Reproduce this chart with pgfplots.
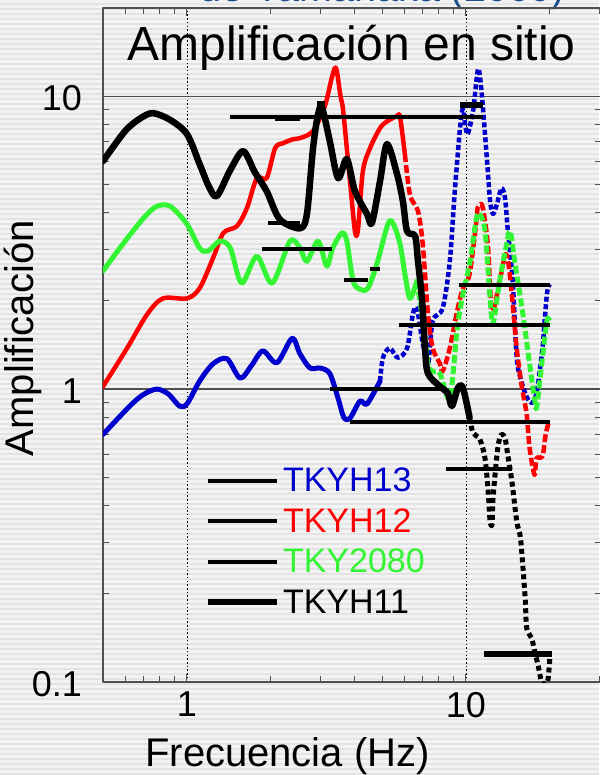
\documentclass[border=0pt]{standalone}
\usepackage{fontspec}
\setmainfont{Liberation Sans}
\usepackage{pgfplots}
\pgfplotsset{compat=1.18}

\definecolor{bgbase}{HTML}{F3F3F3}
\definecolor{bgstripe}{HTML}{E3E3E3}
\definecolor{titleblue}{HTML}{1F4E8C}
\definecolor{cblue}{HTML}{0000CC}
\definecolor{cred}{HTML}{FF0000}
\definecolor{cgreen}{HTML}{33F533}
\definecolor{axgray}{HTML}{505050}

\begin{document}
\begin{tikzpicture}[x=1pt,y=1pt]
% slide background
\fill[bgbase] (0,0) rectangle (599,775);
\foreach \s in {0,5,...,775} \fill[bgstripe] (0,\s) rectangle (599,\s+1.6);
% slide heading, cut by the top edge
\node[anchor=base west, inner sep=0pt, text=titleblue,
      font=\fontsize{39.5}{44}\selectfont] at (199,773) {de Yamanaka (2000)};

\begin{axis}[
  at={(103pt,93pt)}, anchor=south west,
  scale only axis, width=498.1pt, height=674pt,
  xmode=log, ymode=log,
  xmin=0.5, xmax=30.5, ymin=0.1, ymax=20,
  xtick={1,10}, xticklabels={1,10},
  ytick={0.1,1,10}, yticklabels={0.1,1,10},
  minor xtick={0.6,0.7,0.8,0.9,2,3,4,5,6,7,8,9,20,30},
  minor ytick={0.2,0.3,0.4,0.5,0.6,0.7,0.8,0.9,2,3,4,5,6,7,8,9},
  tick align=inside, major tick length=8pt, minor tick length=6pt,
  every tick/.style={axgray, line width=1pt},
  axis line style={axgray, line width=1.2pt},
  xmajorgrids, ymajorgrids,
  x grid style={black, line width=0.9pt, dash pattern=on 1.5pt off 2.2pt},
  y grid style={axgray, line width=1.2pt},
  /pgf/number format/assume math mode=true,
  tick label style={font=\fontsize{36}{40}\selectfont},
  xticklabel style={inner sep=0pt, yshift=-10pt},
  yticklabel style={inner sep=0pt, xshift=-21pt, yshift=-2pt},
  xlabel={Frecuencia (Hz)}, ylabel={Amplificación},
  label style={font=\fontsize{40}{44}\selectfont},
  xlabel style={at={(axis description cs:0.3704,0)}, anchor=north, inner sep=0pt, yshift=-55.5pt},
  ylabel style={at={(axis description cs:-0.1225,0.510)}, anchor=south, inner sep=0pt},
  title={Amplificación en sitio},
  title style={at={(axis description cs:0.499,0.9125)}, anchor=base, inner sep=0pt,
               font=\fontsize{48}{52}\selectfont},
  legend style={at={(axis description cs:0.2048,0.3175)}, anchor=north west,
                draw=none, fill=none, inner sep=0pt, outer sep=0pt,
                row sep=15.3pt, column sep=3pt,
                font=\fontsize{34}{40}\selectfont, nodes={inner sep=0pt}},
  legend cell align=left,
  legend image code/.code={\draw[#1] (0pt,0pt) -- (69pt,0pt);},
  line join=round,
]

% TKYH13
\addplot[cblue, line width=5pt, line cap=round, smooth, tension=0.5, forget plot] coordinates {
  (0.5,0.70) (0.57,0.80) (0.64,0.896) (0.7,0.96) (0.78,1.0) (0.86,0.96) (0.94,0.875)
  (1.0,0.89) (1.11,1.065) (1.24,1.22) (1.39,1.27) (1.55,1.09) (1.7,1.2) (1.87,1.35)
  (2.1,1.23) (2.38,1.49) (2.54,1.32) (2.76,1.18) (3.0,1.18) (3.25,1.13) (3.48,0.93)
  (3.65,0.80) (3.84,0.796) (4.17,0.91) (4.42,0.89) (4.92,1.065) };
\addplot[cblue, line width=4.5pt, dash pattern=on 5pt off 2.5pt, smooth, tension=0.5, forget plot] coordinates {
  (4.92,1.065) (5.04,1.28) (5.33,1.38) (5.7,1.28) (6.15,1.38) (6.45,1.80) (6.67,1.89)
  (6.95,1.49) (7.31,1.22) (7.6,1.71) (8.25,1.89) (8.75,2.73) (9.1,4.63) (9.52,7.78)
  (9.75,9.03) (10.1,7.42) (10.6,8.9) (10.9,11.3) (11.1,12.4) (11.4,10.1) (11.9,6.0)
  (12.2,4.39) (12.5,3.96) (12.9,4.27) (13.4,4.85) (13.8,4.49) (14.1,3.54) (14.7,2.34)
  (15.2,1.28) (15.8,1.06) (16.6,0.93) (17.4,0.90) (18.0,1.0) (18.8,1.38) (19.5,2.11)
  (20,2.28) };

% TKYH12
\addplot[cred, line width=4.5pt, line cap=round, smooth, tension=0.5, forget plot] coordinates {
  (0.5,1.02) (0.61,1.38) (0.72,1.80) (0.82,2.04) (1.0,2.04) (1.11,2.21) (1.24,2.80)
  (1.35,3.41) (1.51,3.60) (1.64,4.15) (1.78,5.25) (1.93,5.25) (2.07,6.65) (2.21,6.91)
  (2.4,7.13) (2.54,7.19) (2.83,7.6) (3.12,9.25) (3.3,11.5) (3.42,12.5) (3.55,10.0)
  (3.62,9.1) (3.74,6.65) (3.84,5.13) (4.0,3.46) (4.1,3.5) (4.27,5.54) (4.53,6.65)
  (4.92,7.78) (5.21,8.2) (5.66,8.55) (5.8,8.5) (6.04,6.34) };
\addplot[cred, line width=4.5pt, dash pattern=on 8pt off 3pt, smooth, tension=0.5, forget plot] coordinates {
  (6.04,6.34) (6.3,4.6) (6.73,4.05) (7.0,3.12) (7.31,1.80) (7.6,1.38) (8.07,1.22)
  (8.25,1.15) (8.75,1.38) (9.3,1.85) (9.75,2.21) (10.3,2.47) (10.9,3.74) (11.0,4.15)
  (11.4,4.27) (11.7,3.74) (12.0,3.03) (12.4,1.85) (13.2,2.34) (13.9,2.89) (14.4,2.4)
  (15.2,1.38) (15.8,1.04) (16.5,0.82) (16.9,0.63) (17.6,0.51) (17.9,0.58) (18.8,0.59)
  (19.3,0.70) (19.8,0.77) };

% TKY2080
\addplot[cgreen, line width=5pt, line cap=round, smooth, tension=0.5, forget plot] coordinates {
  (0.5,2.53) (0.57,3.0) (0.64,3.46) (0.71,3.9) (0.78,4.21) (0.87,4.21) (1.0,3.66)
  (1.11,3.03) (1.19,2.96) (1.31,3.20) (1.43,3.03) (1.57,2.30) (1.78,2.84) (2.02,2.30)
  (2.34,3.20) (2.54,3.03) (2.69,2.73) (2.95,3.20) (3.17,2.63) (3.33,3.03) (3.59,3.41)
  (3.74,3.20) (3.94,2.34) (4.17,2.19) (4.45,2.21) (4.79,2.67) (5.25,3.66) (5.47,3.69)
  (5.8,3.13) (6.04,2.47) (6.3,2.04) (6.67,2.34) };
\addplot[cgreen, line width=5pt, dash pattern=on 8pt off 3pt, smooth, tension=0.5, forget plot] coordinates {
  (6.67,2.34) (7.0,1.71) (7.31,1.22) (7.6,1.15) (8.07,1.13) (8.75,0.93) (9.3,1.61)
  (9.75,2.11) (10.3,2.67) (10.9,3.83) (11.2,3.96) (11.7,3.46) (12.2,2.04) (12.5,1.67)
  (13.2,2.34) (13.9,3.03) (14.4,3.46) (15.0,2.67) (16.0,1.80) (16.9,1.22) (17.6,0.93)
  (17.9,0.86) (18.4,1.07) (19.5,1.71) (20,1.67) };

% TKYH11
\addplot[black, line width=6.5pt, line cap=round, smooth, tension=0.5, forget plot] coordinates {
  (0.5,6.0) (0.6,7.6) (0.68,8.4) (0.755,8.75) (0.87,8.3) (1.0,7.42) (1.11,5.86)
  (1.2,4.9) (1.28,4.56) (1.43,5.6) (1.59,6.49) (1.75,5.5) (1.93,4.74) (2.15,3.80)
  (2.54,3.54) (2.69,3.96) (2.83,6.65) (2.95,8.68) (3.05,9.1) (3.25,7.02) (3.48,5.25)
  (3.74,6.10) (4.0,4.74) (4.42,3.96) (4.60,3.69) (4.92,5.13) (5.21,6.86) (5.66,5.42)
  (5.94,4.38) (6.15,3.46) (6.57,3.33) (6.73,2.73) (6.95,2.04) (7.13,1.38) (7.31,1.13)
  (8.07,1.02) (8.6,0.97) (8.9,0.875) (9.36,1.01) (9.75,1.01) (10.3,0.80) };
\addplot[black, line width=5pt, dash pattern=on 5pt off 3.5pt, smooth, tension=0.5, forget plot] coordinates {
  (10.3,0.80) (10.6,0.708) (11.2,0.675) (11.7,0.58) (12.0,0.45) (12.2,0.354)
  (12.4,0.346) (12.5,0.425) (13.0,0.63) (13.4,0.70) (13.8,0.68) (14.1,0.60)
  (14.6,0.485) (15.2,0.354) (15.6,0.32) (15.8,0.287) (16.3,0.193) (16.5,0.153)
  (17.2,0.141) (17.6,0.128) (18.1,0.115) (18.7,0.10) (19.6,0.10) (20,0.123) };

% horizontal black levels
\addplot[black, line width=4pt, forget plot] coordinates {(1.426,8.48) (11.5,8.48)};
\addplot[black, line width=6pt, forget plot] coordinates {(2.07,8.4) (2.54,8.4)};
\addplot[black, line width=6pt, forget plot] coordinates {(2.92,9.39) (3.12,9.39)};
\addplot[black, line width=6pt, forget plot] coordinates {(9.52,9.3) (11.5,9.3)};
\addplot[black, line width=4pt, forget plot] coordinates {(1.95,3.69) (2.54,3.69)};
\addplot[black, line width=4pt, forget plot] coordinates {(1.86,3.0) (3.31,3.0)};
\addplot[black, line width=4pt, forget plot] coordinates {(3.65,2.36) (4.45,2.36)};
\addplot[black, line width=4pt, forget plot] coordinates {(4.53,2.57) (4.92,2.57)};
\addplot[black, line width=4pt, forget plot] coordinates {(9.44,2.26) (20,2.26)};
\addplot[black, line width=4pt, forget plot] coordinates {(5.75,1.65) (20,1.65)};
\addplot[black, line width=4pt, forget plot] coordinates {(3.25,1.0) (8.07,1.0)};
\addplot[black, line width=4pt, forget plot] coordinates {(3.84,0.772) (20,0.772)};
\addplot[black, line width=4pt, forget plot] coordinates {(8.48,0.533) (14.6,0.533)};
\addplot[black, line width=6pt, forget plot] coordinates {(11.6,0.125) (20.3,0.125)};

\addlegendimage{black, line width=4pt}
\addlegendentry{\textcolor{cblue}{TKYH13}}
\addlegendimage{black, line width=4pt}
\addlegendentry{\textcolor{cred}{TKYH12}}
\addlegendimage{black, line width=4pt}
\addlegendentry{\textcolor{cgreen}{TKY2080}}
\addlegendimage{black, line width=6pt}
\addlegendentry{TKYH11}
\end{axis}
\pgfresetboundingbox
\useasboundingbox (0,0) rectangle (599,775);
\end{tikzpicture}
\end{document}
